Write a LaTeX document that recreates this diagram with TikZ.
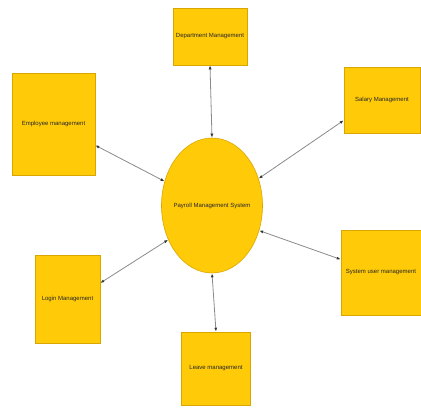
\documentclass[tikz,border=0pt]{standalone}
\usepackage{fontspec}
\setmainfont{Liberation Sans}
\usetikzlibrary{arrows.meta,shapes.geometric}
\definecolor{boxgold}{HTML}{FFCA08}
\definecolor{boxedge}{HTML}{D9A600}
\definecolor{linkgray}{HTML}{8A8A8A}
\begin{document}
\begin{tikzpicture}[x=1pt,y=-1pt,
    module/.style={draw=boxedge,fill=boxgold,line width=0.6pt,inner sep=0pt,
        font=\fontsize{6}{7}\selectfont,text=black!85},
    core/.style={module,ellipse},
    link/.style={draw=linkgray,line width=0.8pt,
        {Latex[length=4pt,width=3pt,color=black!80]}-{Latex[length=4pt,width=3pt,color=black!80]}}]
    \useasboundingbox (0,0) rectangle (421,409);

    % centre ellipse, text as label so it keeps its size
    \node[core,minimum width=101pt,minimum height=135pt,
        label={[font=\fontsize{6}{7}\selectfont,text=black!85]center:Payroll Management System}] (pms) at (212,205.5) {};

    \node[module,minimum width=74pt,minimum height=57pt] (dept) at (210,36.5) {Department Management};
    \node[module,minimum width=83pt,minimum height=102pt] (emp) at (53.5,124) {Employee management};
    \node[module,minimum width=76pt,minimum height=66pt] (sal) at (382,100) {Salary Management};
    \node[module,minimum width=80pt,minimum height=85pt] (sys) at (381,272.5) {System user management};
    \node[module,minimum width=65pt,minimum height=88pt] (login) at (67.5,299) {Login Management};
    \node[module,minimum width=69pt,minimum height=73pt] (leave) at (216,368.5) {Leave management};

    \draw[link] (dept.south) -- (pms.north);
    \draw[link] (emp.-27) -- (pms.153);
    \draw[link] (sal.208) -- (pms.30);
    \draw[link] (sys.162) -- (pms.-28);
    \draw[link] (login.26) -- (pms.218);
    \draw[link] (leave.north) -- (pms.south);

\end{tikzpicture}
\end{document}
